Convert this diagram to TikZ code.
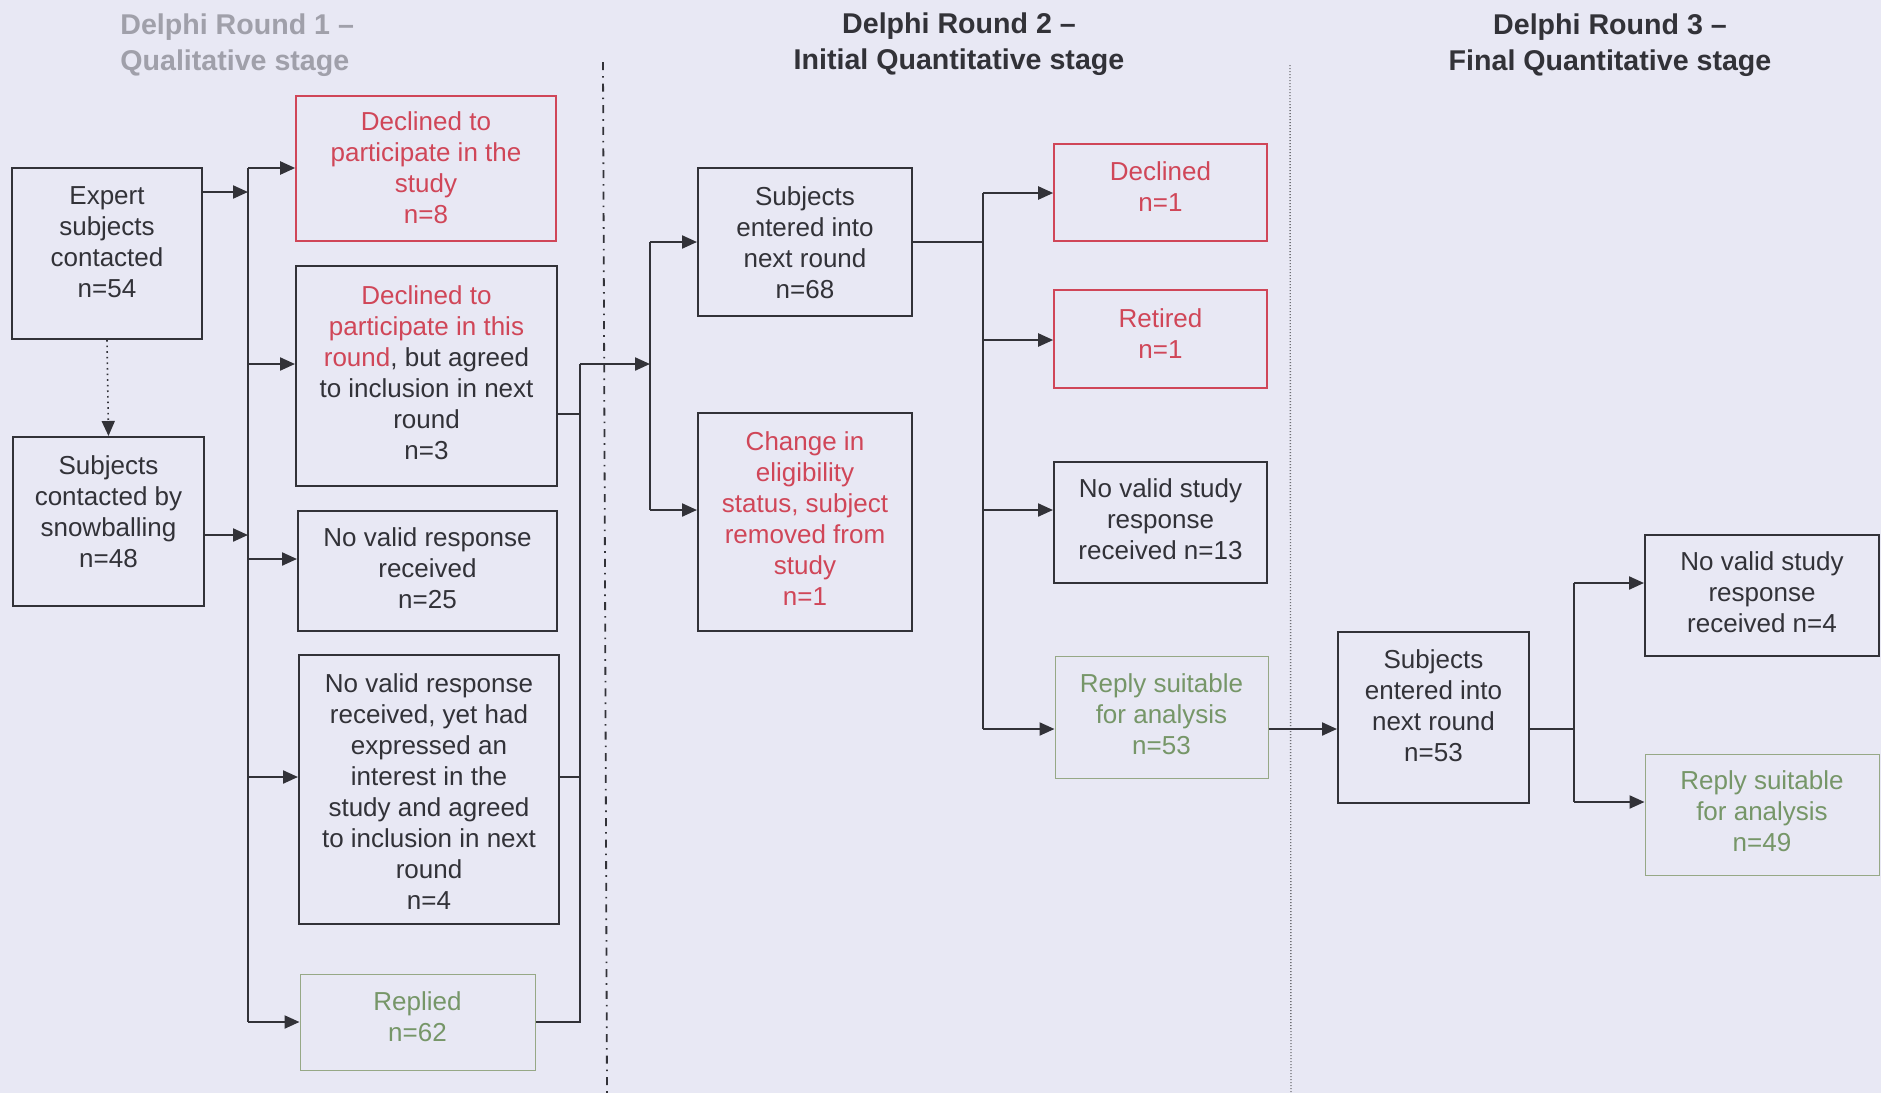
\documentclass[tikz,border=0pt]{standalone}
\usepackage{fontspec}
\setmainfont{Liberation Sans}
\usetikzlibrary{arrows.meta}
\definecolor{bg}{RGB}{232,232,244}
\definecolor{ink}{RGB}{50,50,56}
\definecolor{redtxt}{RGB}{208,70,88}
\definecolor{greentxt}{RGB}{118,150,104}
\definecolor{greenline}{RGB}{150,168,134}
\definecolor{greytitle}{RGB}{160,160,170}
\newcommand{\bodyfont}{\fontsize{13}{15.5}\selectfont}
\newcommand{\titlefont}{\fontsize{14.3}{18}\selectfont\bfseries}
% centred lines of a box; the optional length adds depth below them,
% which lifts the text inside its frame (a negative one lowers it)
\newcommand{\boxlines}[2][0pt]{\raisebox{0pt}[\height][\dimexpr\depth+#1\relax]{\begin{tabular}{@{}c@{}}#2\end{tabular}}}
\tikzset{
  box/.style 2 args={draw=ink, line width=1pt, text=ink, inner sep=0pt,
    font=\bodyfont, minimum width={#1*0.5pt}, minimum height={#2*0.5pt}},
  redbox/.style={draw=redtxt, line width=0.8pt, text=redtxt},
  greenbox/.style={draw=greenline, line width=0.5pt, text=greentxt},
  redtext/.style={text=redtxt},
  title/.style={font=\titlefont, text=ink, align=center, inner sep=0pt},
  conn/.style={draw=ink, line width=1.1pt},
  arr/.style={conn, -{Triangle[length=7.5pt,width=6.5pt]}},
}
\begin{document}
\begin{tikzpicture}[x=0.5pt, y=-0.5pt]
\fill[bg] (0,0) rectangle (1881,1093);
\useasboundingbox (0,0) rectangle (1881,1093);

% stage headings
\node[title, text=greytitle, align=left, anchor=west] (t1) at (120,45.5) {Delphi Round 1 --\\Qualitative stage};
\node[title] (t2) at (959,44.5) {Delphi Round 2 --\\Initial Quantitative stage};
\node[title] (t3) at (1610,45.5) {Delphi Round 3 --\\Final Quantitative stage};

% stage separators
\coordinate (s1a) at (603,62);
\coordinate (s1b) at (607,1093);
\coordinate (s2a) at (1290,65);
\coordinate (s2b) at (1291,1093);
\draw[ink, line width=0.9pt, dash pattern=on 4pt off 3pt on 0.8pt off 3pt] (s1a) -- (s1b);
\draw[ink!70, line width=0.7pt, dash pattern=on 0.6pt off 0.9pt] (s2a) -- (s2b);

% round 1
\node[box={190}{171}] (expert) at (107,253.5) {\boxlines[8.4pt]{Expert\\subjects\\contacted\\n=54}};
\node[box={191}{169}] (snow) at (108.5,521.5) {\boxlines[7.2pt]{Subjects\\contacted by\\snowballing\\n=48}};
\node[box={260}{145}, redbox] (dstudy) at (426,168.5) {\boxlines[-2.4pt]{Declined to\\participate in the\\study\\n=8}};
\node[box={261}{220}] (dround) at (426.5,376) {\boxlines{\textcolor{redtxt}{Declined to}\\\textcolor{redtxt}{participate in this}\\\textcolor{redtxt}{round}, but agreed\\to inclusion in next\\round\\n=3}};
\node[box={259}{120}] (nv25) at (427.5,571) {\boxlines{No valid response\\received\\n=25}};
\node[box={260}{269}] (nv4) at (429,789.5) {\boxlines[-4.8pt]{No valid response\\received, yet had\\expressed an\\interest in the\\study and agreed\\to inclusion in next\\round\\n=4}};
\node[box={235}{96}, greenbox] (replied) at (417.5,1022) {\boxlines[2.4pt]{Replied\\n=62}};

% round 2
\node[box={214}{148}] (sub68) at (805,242) {\boxlines[-3.6pt]{Subjects\\entered into\\next round\\n=68}};
\node[box={214}{218}, redtext] (change) at (805,522) {\boxlines{Change in\\eligibility\\status, subject\\removed from\\study\\n=1}};
\node[box={213}{97}, redbox] (dec1) at (1160.5,192.5) {\boxlines[2.4pt]{Declined\\n=1}};
\node[box={213}{98}, redbox] (ret1) at (1160.5,339) {\boxlines[2.4pt]{Retired\\n=1}};
\node[box={213}{121}] (nv13) at (1160.5,522.5) {\boxlines{No valid study\\response\\received n=13}};
\node[box={213}{122}, greenbox] (rs53) at (1161.5,717) {\boxlines{Reply suitable\\for analysis\\n=53}};

% round 3
\node[box={191}{171}] (sub53) at (1433.5,717.5) {\boxlines[8.4pt]{Subjects\\entered into\\next round\\n=53}};
\node[box={234}{121}] (nv4b) at (1762,595.5) {\boxlines{No valid study\\response\\received n=4}};
\node[box={234}{121}, greenbox] (rs49) at (1762,814.5) {\boxlines{Reply suitable\\for analysis\\n=49}};

% round 1 connectors
\draw[ink, line width=0.8pt, dotted, -{Triangle[length=7.5pt,width=6.5pt]}] (expert.south) -- (snow.north);
\coordinate (b1top) at (248,168);
\coordinate (b1bot) at (248,1022);
\draw[conn] (b1top) -- (b1bot);
\draw[arr] (expert.east |- 0,192) -- (248,192);
\draw[arr] (snow.east |- 0,535) -- (248,535);
\draw[arr] (b1top) -- (dstudy.west |- b1top);
\draw[arr] (248,364) -- (dround.west |- 0,364);
\draw[arr] (248,559) -- (nv25.west |- 0,559);
\draw[arr] (248,777) -- (nv4.west |- 0,777);
\draw[arr] (b1bot) -- (replied.west |- b1bot);

% collection into round 2
\coordinate (c1top) at (580,364);
\coordinate (c1bot) at (580,1022);
\draw[conn] (dround.east |- 0,414) -- (580,414);
\draw[conn] (nv4.east |- 0,777) -- (580,777);
\draw[conn] (replied.east |- c1bot) -- (c1bot) -- (c1top);
\coordinate (b2top) at (650,242);
\coordinate (b2bot) at (650,510);
\draw[arr] (c1top) -- (650,364);
\draw[conn] (b2top) -- (b2bot);
\draw[arr] (b2top) -- (sub68.west |- b2top);
\draw[arr] (b2bot) -- (change.west |- b2bot);

% round 2 outcomes
\coordinate (b3top) at (983,193);
\coordinate (b3bot) at (983,729);
\draw[conn] (sub68.east) -- (sub68.east -| b3top);
\draw[conn] (b3top) -- (b3bot);
\draw[arr] (b3top) -- (dec1.west |- b3top);
\draw[arr] (983,340) -- (ret1.west |- 0,340);
\draw[arr] (983,510) -- (nv13.west |- 0,510);
\draw[arr] (b3bot) -- (rs53.west |- b3bot);

% into round 3
\draw[arr] (rs53.east |- 0,729) -- (sub53.west |- 0,729);
\coordinate (b4top) at (1574,583);
\coordinate (b4bot) at (1574,802);
\draw[conn] (sub53.east |- 0,729) -- (1574,729);
\draw[conn] (b4top) -- (b4bot);
\draw[arr] (b4top) -- (nv4b.west |- b4top);
\draw[arr] (b4bot) -- (rs49.west |- b4bot);
\end{tikzpicture}
\end{document}
